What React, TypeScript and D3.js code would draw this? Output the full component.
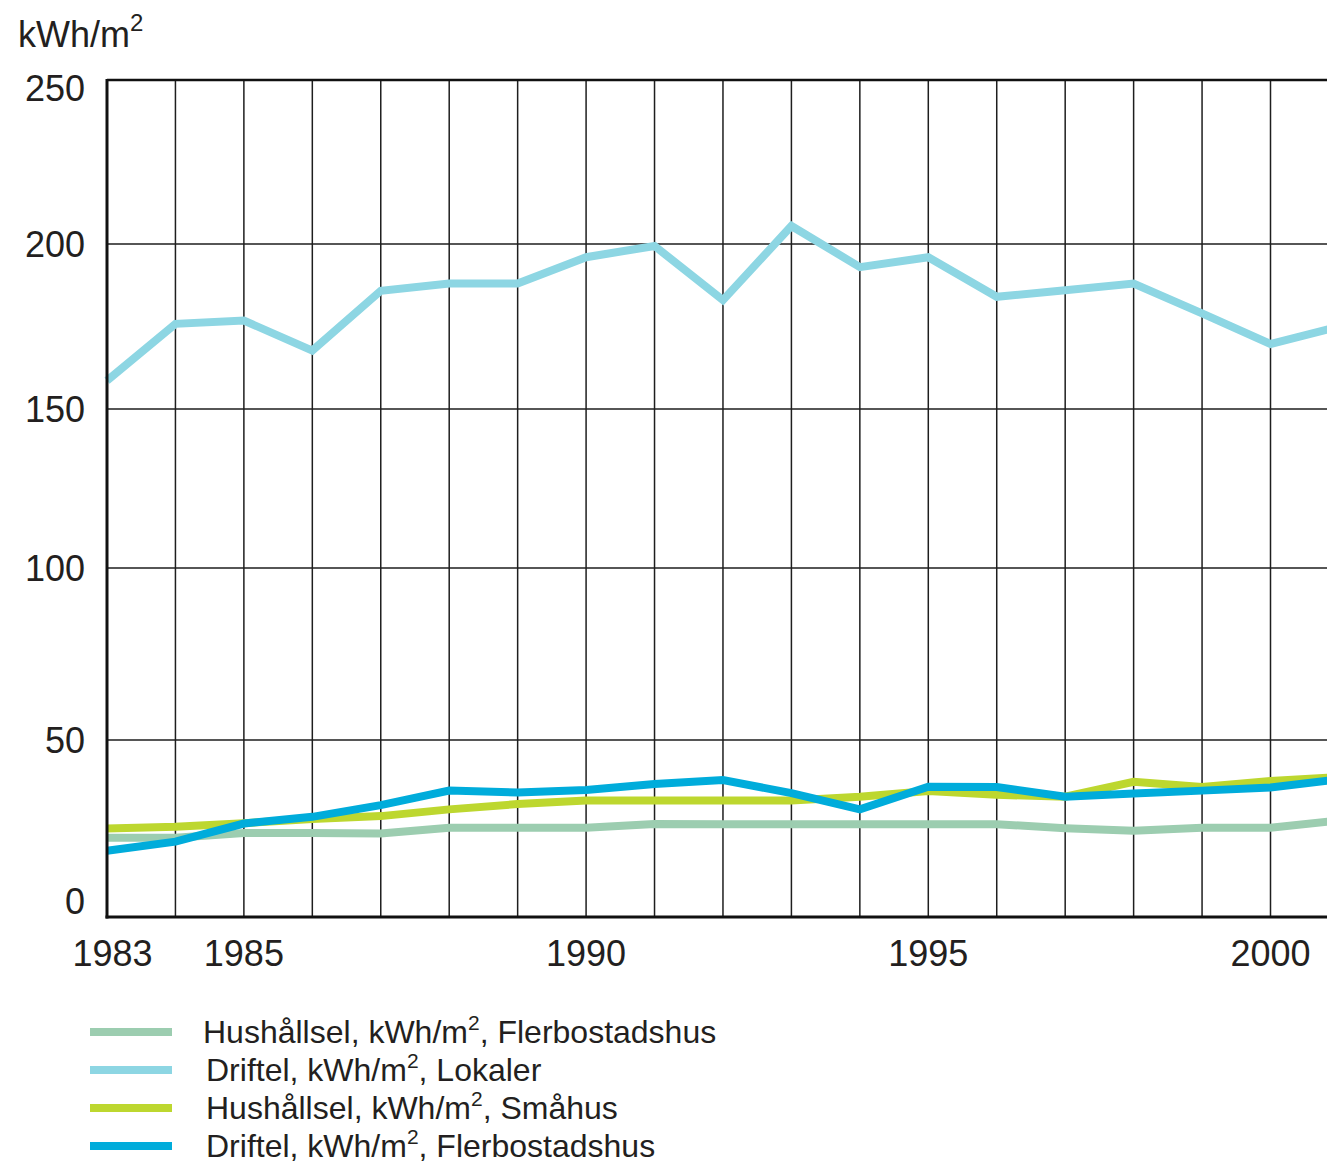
import React from "react";
import * as d3 from "d3";

const years = [1983,1984,1985,1986,1987,1988,1989,1990,1991,1992,1993,1994,1995,1996,1997,1998,1999,2000,2001];
const hushallFlerbo = [22.4,22.4,23.7,23.7,23.6,25.2,25.2,25.2,26.3,26.2,26.2,26.2,26.2,26.2,25.1,24.4,25.2,25.2,27.3];
const driftLokaler = [158.6,175.8,176.8,167.7,185.8,188,188,196,199.4,183,205.5,193,196,184,186,188,179,169.7,175];
const hushallSmahus = [25,25.5,26.5,27.7,28.5,30.4,31.9,32.9,32.9,32.9,32.9,34,35.6,34.5,34,38.2,36.7,38.4,39.5];
const driftFlerbo = [18.7,21.3,26.4,28.3,31.6,35.7,35.2,35.9,37.6,38.7,35,30.4,36.8,36.7,34,34.9,35.7,36.6,38.9];

const yTicks = [0,50,100,150,200,250];
const xTickLabels = [1983,1985,1990,1995,2000];

const seriesNames = ["Hushållsel", "Driftel", "Hushållsel", "Driftel"];
const seriesSuffix = ["Flerbostadshus", "Lokaler", "Småhus", "Flerbostadshus"];
const seriesColors = ["#9ccdb0", "#8dd6e3", "#bdd72f", "#00acdb"];
const seriesValues = [hushallFlerbo, driftLokaler, hushallSmahus, driftFlerbo];

const W = 1327, H = 1171;
const FONT = "'Liberation Sans', Arial, Helvetica, sans-serif";
const TXT = "#231f20";

export default function App() {
  const x = d3.scaleLinear().domain([1983, 2000]).range([107, 1270.5]);
  // the reference's value axis is slightly uneven; piecewise linear scale follows its gridlines
  const y = d3.scaleLinear().domain([0, 50, 100, 150, 200, 250]).range([917, 740, 568, 409, 244, 80]);
  const xEnd = x(2001);
  const line = d3.line<number>().x((_, i) => x(years[i])).y((v) => y(v));

  return (
    <svg width={W} height={H} style={{ position: "absolute", left: 0, top: 0, display: "block", background: "#fff" }} fontFamily={FONT}>
      {/* unit title */}
      <text x={18} y={47} fontSize={36} fill={TXT}>
        kWh/m<tspan fontSize={24} dy={-16}>2</tspan>
      </text>

      {/* vertical gridlines */}
      {years.slice(1).map((yr) => (
        <line key={"v" + yr} x1={x(yr)} x2={x(yr)} y1={y(250)} y2={y(0)} stroke="#1e1e1e" strokeWidth={1.5} />
      ))}
      {/* horizontal gridlines */}
      {yTicks.filter((t) => t > 0 && t < 250).map((t) => (
        <line key={"h" + t} x1={x(1983)} x2={xEnd} y1={y(t)} y2={y(t)} stroke="#1e1e1e" strokeWidth={1.5} />
      ))}
      {/* top border */}
      <line x1={x(1983)} x2={xEnd} y1={y(250)} y2={y(250)} stroke="#111" strokeWidth={2.5} />

      {/* series */}
      {seriesValues.map((vals, i) => (
        <path key={"s" + i} d={line(vals) || ""} fill="none" stroke={seriesColors[i]} strokeWidth={8} strokeLinejoin="miter" />
      ))}

      {/* axes */}
      <line x1={x(1983)} x2={x(1983)} y1={y(250) - 1} y2={y(0) + 1.5} stroke="#111" strokeWidth={3} />
      <line x1={x(1983) - 1.5} x2={xEnd} y1={y(0)} y2={y(0)} stroke="#111" strokeWidth={3} />

      {/* y tick labels */}
      {yTicks.map((t) => (
        <text key={"yl" + t} x={85} y={Math.min(Math.max(y(t), 88), 901)} fontSize={36} textAnchor="end" dominantBaseline="central" fill={TXT}>
          {t}
        </text>
      ))}
      {/* x tick labels */}
      {xTickLabels.map((t) => (
        <text key={"xl" + t} x={Math.max(x(t), 112.5)} y={966} fontSize={36} textAnchor="middle" fill={TXT}>
          {t}
        </text>
      ))}

      {/* legend */}
      {seriesNames.map((name, i) => {
        const ly = 1032 + i * 38;
        return (
          <g key={"lg" + i}>
            <line x1={90} x2={172} y1={ly} y2={ly} stroke={seriesColors[i]} strokeWidth={8} />
            <text x={i === 0 ? 203 : 206} y={ly + 11} fontSize={32} fill={TXT}>
              {name}, kWh/m<tspan fontSize={21} dy={-13}>2</tspan>
              <tspan dy={13}>, {seriesSuffix[i]}</tspan>
            </text>
          </g>
        );
      })}
    </svg>
  );
}
